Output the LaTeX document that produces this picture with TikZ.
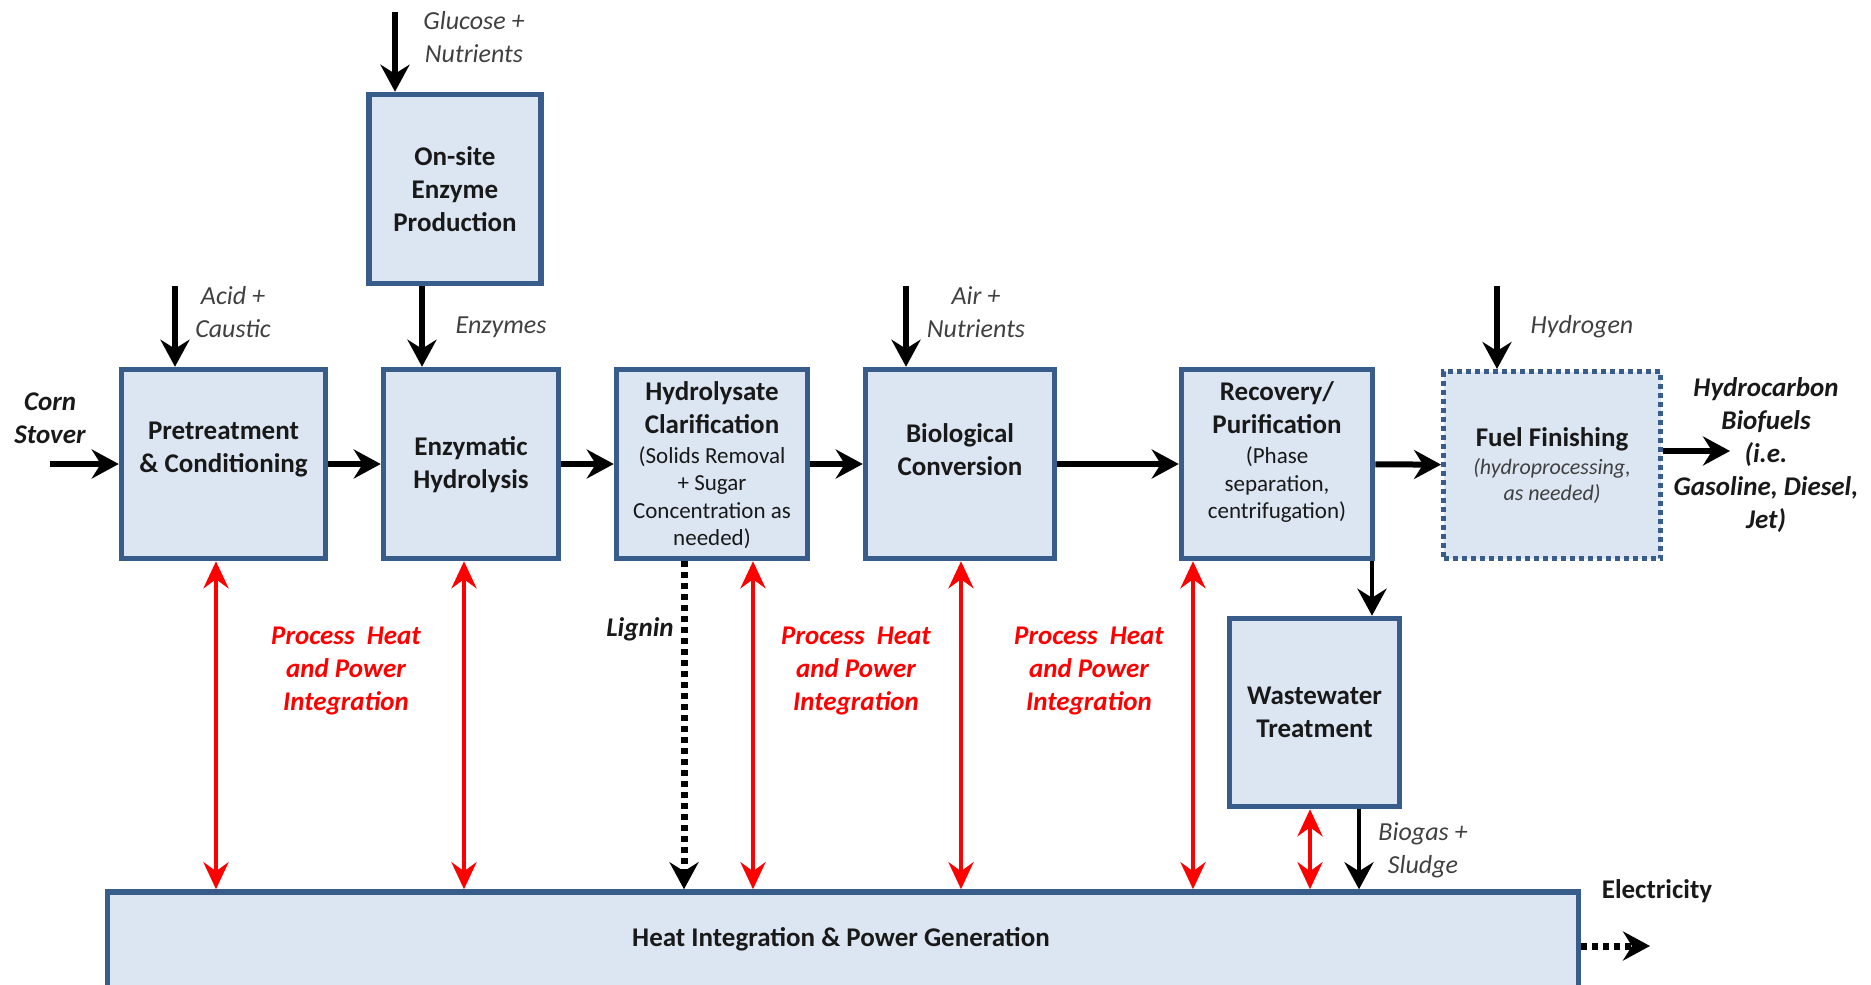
\documentclass[tikz,border=0pt]{standalone}
\usepackage{fontspec}
\setmainfont{Carlito}
\usetikzlibrary{arrows.meta,positioning,calc}
\definecolor{boxline}{HTML}{385D8A}
\definecolor{boxfill}{HTML}{DCE6F2}
\definecolor{heatred}{HTML}{FF0000}
\definecolor{labelgray}{HTML}{404040}
\newcommand{\subtx}[1]{{\fontsize{23}{27.5}\selectfont\mdseries #1}}
\newcommand{\finsub}[1]{{\fontsize{22}{26}\selectfont\mdseries\itshape\color{labelgray} #1}}
\tikzset{
  procbox/.style={draw=boxline,fill=boxfill,line width=5.5pt,inner sep=0pt},
  finbox/.style={procbox,line width=5pt,dash pattern=on 5pt off 4pt},
  boxtext/.style={font=\fontsize{27}{33}\selectfont\bfseries,align=center,text=black!90},
  inlabel/.style={font=\fontsize{26}{33}\selectfont\itshape,align=center,text=labelgray},
  outlabel/.style={font=\fontsize{27}{33}\selectfont\bfseries\itshape,align=center,text=black!90},
  heatlabel/.style={font=\fontsize{27}{33}\selectfont\bfseries\itshape,align=center,text=heatred},
  flow/.style={line width=6pt,-{Stealth[length=27pt,width=29pt,inset=9pt]}},
  thinflow/.style={flow,line width=4.5pt},
  dotflow/.style={flow,line width=7pt,dash pattern=on 6pt off 5pt},
  heatflow/.style={draw=heatred,line width=4.5pt,
    {Stealth[length=27pt,width=25pt,inset=9pt]}-{Stealth[length=27pt,width=25pt,inset=9pt]}}
}
\begin{document}
\begin{tikzpicture}[x=1pt,y=-1pt]
  \clip (0,0) rectangle (1871,985);

  % Process boxes
  \node[procbox,minimum width=204pt,minimum height=189pt] (pretreat) at (223.5,464) {};
  \node[procbox,minimum width=175pt,minimum height=189pt] (enzhyd) at (471,464) {};
  \node[procbox,minimum width=191pt,minimum height=189pt] (clarif) at (712,464) {};
  \node[procbox,minimum width=189pt,minimum height=189pt] (bioconv) at (960,464) {};
  \node[procbox,minimum width=191pt,minimum height=189pt] (recovery) at (1277,464) {};
  \node[finbox,minimum width=217pt,minimum height=187pt] (fuelfin) at (1552,465) {};
  \node[procbox,minimum width=172pt,minimum height=189pt] (onsite) at (455,189) {};
  \node[procbox,minimum width=170pt,minimum height=188pt] (wastewater) at (1314.5,712.5) {};
  \node[procbox,minimum width=1471pt,minimum height=168pt] (heat) at (843,976) {};

  % Feed and product end points
  \coordinate (cornin) at (50,464);
  \coordinate (acidin) at (175,286);
  \coordinate (glucin) at (395,12);
  \coordinate (airin) at (906,286);
  \coordinate (h2in) at (1497,286);
  \coordinate (fuelout) at (1730,451);
  \coordinate (elecout) at (1650,946);

  % Main flow
  \draw[flow] (cornin) -- (pretreat);
  \draw[flow] (pretreat) -- (enzhyd);
  \draw[flow] (enzhyd) -- (clarif);
  \draw[flow] (clarif) -- (bioconv);
  \draw[flow] (bioconv) -- (recovery);
  \draw[flow] (recovery) -- (fuelfin);
  \draw[flow] (fuelfin.east |- fuelout) -- (fuelout);

  % Inputs from above
  \draw[flow] (acidin) -- (acidin |- pretreat.north);
  \draw[flow] (glucin) -- (glucin |- onsite.north);
  \draw[flow] ([xshift=-33pt]onsite.south) -- ([xshift=-33pt]onsite.south |- enzhyd.north);
  \draw[flow] (airin) -- (airin |- bioconv.north);
  \draw[flow] (h2in) -- (h2in |- fuelfin.north);

  % Side streams
  \draw[thinflow] ([xshift=95pt]recovery.south) -- ([xshift=95pt]recovery.south |- wastewater.north);
  \draw[thinflow] ([xshift=44.5pt]wastewater.south) -- ([xshift=44.5pt]wastewater.south |- heat.north);
  \draw[dotflow] ([xshift=-28pt]clarif.south) -- ([xshift=-28pt]clarif.south |- heat.north);
  \draw[dotflow] (heat.east |- elecout) -- (elecout);

  % Heat and power integration
  \draw[heatflow] ([xshift=-7.5pt]pretreat.south) -- ([xshift=-7.5pt]pretreat.south |- heat.north);
  \draw[heatflow] ([xshift=-7pt]enzhyd.south) -- ([xshift=-7pt]enzhyd.south |- heat.north);
  \draw[heatflow] ([xshift=41pt]clarif.south) -- ([xshift=41pt]clarif.south |- heat.north);
  \draw[heatflow] ([xshift=1pt]bioconv.south) -- ([xshift=1pt]bioconv.south |- heat.north);
  \draw[heatflow] ([xshift=-84pt]recovery.south) -- ([xshift=-84pt]recovery.south |- heat.north);
  \draw[heatflow] ([xshift=-4.5pt]wastewater.south) -- ([xshift=-4.5pt]wastewater.south |- heat.north);

  % Box texts
  \node[boxtext] at (223.5,450) {Pretreatment\\\& Conditioning};
  \node[boxtext] at (471,465) {Enzymatic\\Hydrolysis};
  \node[boxtext] at (712,465) {Hydrolysate\\Clarification\\[-3pt]\subtx{(Solids Removal}\\[-5.5pt]\subtx{+ Sugar}\\[-5.5pt]\subtx{Concentration as}\\[-5.5pt]\subtx{needed)}};
  \node[boxtext] at (960,450) {Biological\\Conversion};
  \node[boxtext] at (1277,452) {Recovery/\\Purification\\[-3pt]\subtx{(Phase}\\[-5.5pt]\subtx{separation,}\\[-5.5pt]\subtx{centrifugation)}};
  \node[boxtext] at (1552,466) {Fuel Finishing\\[-5pt]\finsub{(hydroprocessing,}\\[-7pt]\finsub{as needed)}};
  \node[boxtext] at (455,189) {On-site\\Enzyme\\Production};
  \node[boxtext] at (1314.5,712.5) {Wastewater\\Treatment};
  \node[boxtext] at (841,939) {Heat Integration \& Power Generation};

  % Stream labels
  \node[outlabel] at (50,418) {Corn\\Stover};
  \node[inlabel] at (233,312) {Acid +\\Caustic};
  \node[inlabel] at (474,37) {Glucose +\\Nutrients};
  \node[inlabel] at (501,327) {Enzymes};
  \node[inlabel] at (976,312) {Air +\\Nutrients};
  \node[inlabel] at (1582,327) {Hydrogen};
  \node[outlabel] at (1766,455) {Hydrocarbon\\Biofuels\\(i.e.\\Gasoline, Diesel,\\Jet)};
  \node[outlabel] at (640,629) {Lignin};
  \node[inlabel] at (1423,850) {Biogas +\\Sludge};
  \node[boxtext] at (1657,891) {Electricity};
  \node[heatlabel] at (346,671) {Process~ Heat\\and Power\\Integration};
  \node[heatlabel] at (856,671) {Process~ Heat\\and Power\\Integration};
  \node[heatlabel] at (1089,671) {Process~ Heat\\and Power\\Integration};
\end{tikzpicture}
\end{document}
